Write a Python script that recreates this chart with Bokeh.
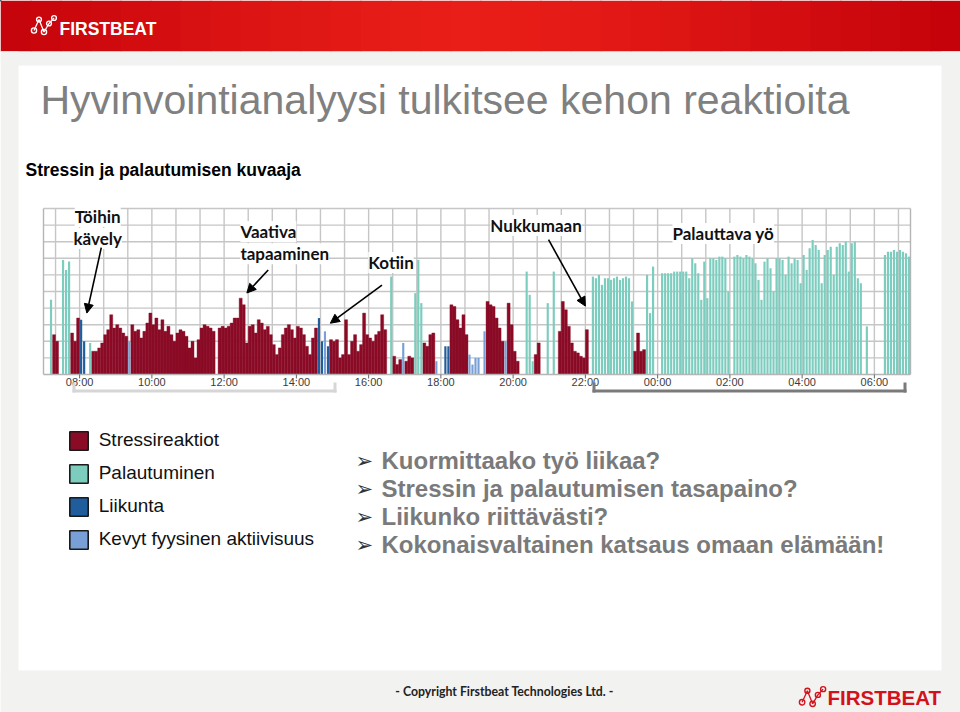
import math
from bokeh.plotting import figure
from bokeh.core.properties import value
from bokeh.models import (ColumnDataSource, Range1d, Label, Arrow, NormalHead, Legend, LegendItem)
from bokeh.embed import file_html
from bokeh.resources import INLINE

# ---------------------------------------------------------------- data
START_HOUR = 7            # chart runs 07:00 -> 07:00 next day
BIN_MINUTES = 5
HOUR_LABELS = ["07", "08", "09", "10", "11", "12", "13", "14", "15", "16", "17", "18",
               "19", "20", "21", "22", "23", "00", "01", "02", "03", "04", "05", "06"]
# one char per 5-minute bin: S stress, R recovery, L exercise, K light activity, . none
CATEGORIES = [
    "..RSS.RRRSSS", "LL.RSSSSSSSS", "SSSSKSSSSSSS", "SSSSSSSSSSSS",
    "SSSSSSSSS.SS", "SSSSSSSSSSSS", "SSSSSSSSSSSS", "SSSSSSSLLKLS",
    "SSSSSSSSSSSS", "SSSSSS.RSSSK", "SSSRRRSSSSK.", ".LLSSSSSSKKK",
    "K.KSSSSSSKSS", "SS..RRRSS..R", ".R.SSSSSSSSS", "S.RRRRRRRRRR",
    "RRRRSSSSRRR.", ".RRRRRRRRRRR", "RRRRRRRRRRRR", ".RRRRRRRRRRR",
    "RRRRRRRRRRRR", "RRRRRRRRRRRR", "RRRRRRRR.R..", "...RRRRRRRRR",
]
VALUES = [
    [0, 0, 45, 24, 20, 0, 69, 63, 68, 25, 20, 34],
    [33, 20, 0, 19, 14, 14, 16, 19, 24, 27, 36, 28],
    [30, 28, 25, 23, 20, 30, 26, 27, 22, 26, 31, 37],
    [30, 34, 27, 33, 26, 29, 24, 20, 25, 27, 26, 23],
    [16, 20, 10, 21, 28, 30, 29, 28, 26, 0, 28, 29],
    [28, 29, 31, 34, 34, 46, 42, 19, 29, 30, 25, 33],
    [31, 27, 29, 24, 18, 12, 16, 24, 28, 30, 27, 22],
    [29, 28, 24, 17, 12, 22, 28, 34, 20, 26, 17, 21],
    [20, 21, 10, 12, 33, 12, 20, 24, 14, 18, 37, 24],
    [22, 20, 24, 26, 36, 27, 0, 59, 11, 6, 9, 19],
    [8, 11, 10, 49, 69, 43, 19, 17, 24, 25, 8, 0],
    [0, 17, 17, 42, 41, 33, 28, 36, 24, 12, 6, 10],
    [10, 0, 26, 44, 42, 41, 34, 28, 20, 20, 43, 30],
    [14, 8, 0, 0, 62, 48, 8, 12, 19, 0, 0, 43],
    [0, 62, 0, 26, 44, 39, 29, 19, 14, 13, 11, 10],
    [27, 0, 59, 58, 60, 54, 58, 58, 57, 58, 59, 57],
    [58, 59, 58, 44, 14, 25, 14, 15, 60, 37, 65, 0],
    [0, 61, 61, 61, 61, 62, 62, 62, 62, 62, 58, 70],
    [67, 61, 45, 68, 46, 70, 70, 69, 71, 71, 70, 50],
    [0, 71, 72, 71, 70, 72, 71, 70, 67, 57, 45, 68],
    [70, 64, 50, 70, 70, 69, 60, 71, 67, 70, 69, 55],
    [72, 63, 76, 81, 78, 75, 55, 72, 75, 77, 60, 77],
    [79, 78, 80, 62, 79, 80, 58, 55, 0, 29, 0, 0],
    [0, 0, 0, 72, 74, 74, 75, 74, 75, 74, 73, 71],
]
SERIES_CODES = ["S", "R", "L", "K"]
SERIES_NAMES = ["Stressireaktiot", "Palautuminen", "Liikunta", "Kevyt fyysinen aktiivisuus"]
SERIES_COLORS = ["#8a0b26", "#7dcdbf", "#1f5d9c", "#79a0d6"]
TICK_LABELS = ["08:00", "10:00", "12:00", "14:00", "16:00", "18:00",
               "20:00", "22:00", "00:00", "02:00", "04:00", "06:00"]
# event annotations: text lines, anchor (hours after 07:00, value), align, arrow from, arrow to
EVENTS = [
    (["Töihin", "kävely"], (1.50, 95.2), "center", (1.60, 76.4), (1.20, 37.0)),
    (["Vaativa", "tapaaminen"], (5.45, 86.1), "left", (6.22, 63.0), (5.63, 49.1)),
    (["Kotiin"], (8.99, 67.5), "left", (9.37, 53.9), (7.94, 30.9)),
    (["Nukkumaan"], (12.37, 89.8), "left", (13.98, 81.2), (15.00, 41.2)),
    (["Palauttava yö"], (17.41, 84.9), "left", None, None),
]
TITLE = "Hyvinvointianalyysi tulkitsee kehon reaktioita"
SUBTITLE = "Stressin ja palautumisen kuvaaja"
QUESTIONS = ["Kuormittaako työ liikaa?", "Stressin ja palautumisen tasapaino?",
             "Liikunko riittävästi?", "Kokonaisvaltainen katsaus omaan elämään!"]
COPYRIGHT = "- Copyright Firstbeat Technologies Ltd. -"
BRAND = "FIRSTBEAT"

# ---------------------------------------------------------------- layout
W, H = 960, 712
FL, FR, FT, FB = 43, 910, 208, 374        # chart plot area, page pixels
V_MAX = 100
px_per_h = (FR - FL) / 24
px_per_v = (FB - FT) / V_MAX

# page is drawn in pixel space (y down); chart uses its own time / value scales
p = figure(width=W, height=H, x_range=Range1d(0, W), y_range=Range1d(H, 0),
           x_axis_type=None, y_axis_type=None, min_border=0,
           output_backend="svg", toolbar_location=None,
           background_fill_color="white", border_fill_color="white",
           outline_line_color=None)
p.grid.visible = False
p.extra_x_ranges = {"t": Range1d(-FL / px_per_h, 24 + (W - FR) / px_per_h)}
p.extra_y_ranges = {"v": Range1d(-(H - FB) / px_per_v, V_MAX + FT / px_per_v)}

# ---------------------------------------------------------------- page background
def lerp(a, b, t):
    return int(round(a + (b - a) * t))

strip_l, strip_r, strip_c = [], [], []
for i in range(32):
    x0 = i * 30
    t = min(1.0, abs(x0 + 15 - 470) / 480) ** 1.3
    strip_l.append(x0)
    strip_r.append(x0 + 31)
    strip_c.append("#%02x%02x%02x" % (lerp(233, 196, t), lerp(30, 2, t), lerp(24, 10, t)))
p.quad(left=strip_l, right=strip_r, top=[0] * 32, bottom=[51] * 32,
       fill_color=strip_c, line_color=None)

GREY = "#f2f2f0"
p.quad(left=[0, 0, 941, 0], right=[960, 18, 960, 960], top=[51, 51, 51, 670],
       bottom=[65, 712, 712, 712], fill_color=GREY, line_color=None)

# ---------------------------------------------------------------- chart grid
grid_t = [(20 + 40 * k) / 60 for k in range(36)]
p.segment(x0=grid_t, x1=grid_t, y0=[0] * len(grid_t), y1=[V_MAX] * len(grid_t),
          x_range_name="t", y_range_name="v", line_color="#c6c6c6", line_width=1.4)
grid_v = list(range(10, V_MAX + 1, 10))
p.segment(x0=[0] * len(grid_v), x1=[24] * len(grid_v), y0=grid_v, y1=grid_v,
          x_range_name="t", y_range_name="v", line_color="#c6c6c6", line_width=1.4)
p.segment(x0=[0, 24], x1=[0, 24], y0=[0, 0], y1=[V_MAX, V_MAX],
          x_range_name="t", y_range_name="v", line_color="#b5b5b5", line_width=1.4)

# ---------------------------------------------------------------- bars
recs = {c: {"x": [], "top": []} for c in SERIES_CODES}
for h, (cats, vals) in enumerate(zip(CATEGORIES, VALUES)):
    for k, (c, v) in enumerate(zip(cats, vals)):
        if c == ".":
            continue
        recs[c]["x"].append(h + (k * BIN_MINUTES + BIN_MINUTES / 2) / 60)
        recs[c]["top"].append(v)

bin_h = BIN_MINUTES / 60
for code, color in zip(SERIES_CODES, SERIES_COLORS):
    src = ColumnDataSource(recs[code])
    if code == "S":
        p.vbar(x="x", top="top", bottom=0, width=bin_h, source=src,
               x_range_name="t", y_range_name="v",
               fill_color=color, line_color=color, line_width=0.4)
    else:
        p.vbar(x="x", top="top", bottom=0, width=bin_h * 0.72, source=src,
               x_range_name="t", y_range_name="v", fill_color=color, line_color=None)

# baseline + time axis ticks and labels
p.segment(x0=[0], x1=[24], y0=[0], y1=[0], x_range_name="t", y_range_name="v",
          line_color="#b5b5b5", line_width=1.4)
tick_pos = [(int(t[:2]) - START_HOUR) % 24 for t in TICK_LABELS]
p.segment(x0=tick_pos, x1=tick_pos, y0=[FB] * 12, y1=[FB + 4] * 12,
          x_range_name="t", line_color="#666666", line_width=1)
p.text(x=tick_pos, y=[FB + 7.5] * 12, text=TICK_LABELS, x_range_name="t",
       text_font=value("Liberation Sans"), text_font_size="11px", text_color="#3c3c3c",
       text_align="center", text_baseline="middle")

# period brackets under the time axis
def bracket(x0, x1, color):
    p.quad(left=[x0, x0, x1 - 3], right=[x1, x0 + 3, x1], top=[389, 382, 382],
           bottom=[392, 392, 392], fill_color=color, line_color=None)
bracket(72, 336, "#d6d6d6")
bracket(592, 906, "#7a7a7a")

# ---------------------------------------------------------------- event labels
for lines, (tx, ty), align, a_from, a_to in EVENTS:
    for i, line in enumerate(lines):
        p.add_layout(Label(x=tx, y=ty - 13.3 * i, x_range_name="t", y_range_name="v",
                           text=line, text_font="Lato", text_font_style="bold",
                           text_font_size="17px", text_color="#111111", text_align=align,
                           text_baseline="middle",
                           background_fill_color="white", background_fill_alpha=1.0))
    if a_from is not None:
        p.add_layout(Arrow(end=NormalHead(size=9, fill_color="black", line_color="black"),
                           x_start=a_from[0], y_start=a_from[1],
                           x_end=a_to[0], y_end=a_to[1],
                           x_range_name="t", y_range_name="v",
                           line_color="black", line_width=1.6))

# ---------------------------------------------------------------- legend
items = []
for name, color in zip(SERIES_NAMES, SERIES_COLORS):
    # swatch renderer: one off-page bar, used only for the legend glyph
    r = p.vbar(x=[-500], top=[-500], bottom=[-490], width=5,
               fill_color=color, line_color="#1a1a1a", line_width=1.6)
    items.append(LegendItem(label=name, renderers=[r]))
legend = Legend(items=items, location=(66.7, H - 550.5), orientation="vertical",
                glyph_width=23, glyph_height=23, label_height=23, label_standoff=9,
                spacing=10, padding=0, margin=0, border_line_color=None,
                background_fill_alpha=0, label_text_font="Liberation Sans",
                label_text_font_size="19px", label_text_color="#111111")
p.add_layout(legend)

# ---------------------------------------------------------------- texts and logos
def ptext(x, y, text, size, color, font="Liberation Sans", style="normal",
          align="left", baseline="middle"):
    p.text(x=[x], y=[y], text=[text], text_font=value(font), text_font_size=f"{size}px",
           text_font_style=style, text_color=color, text_align=align,
           text_baseline=baseline)

def logo(ox, oy, s, color):
    nodes = [(2.5, 15.0, 2.6), (7.5, 4.0, 2.4), (12.5, 16.5, 2.6), (17.5, 8.0, 2.4), (22.5, 2.5, 2.4)]
    p.line(x=[ox + n[0] * s for n in nodes], y=[oy + n[1] * s for n in nodes],
           line_color=color, line_width=1.3)
    p.scatter(x=[ox + n[0] * s for n in nodes], y=[oy + n[1] * s for n in nodes],
              size=[2 * n[2] * s for n in nodes], marker="circle",
              fill_color=None, line_color=color, line_width=1.4)

logo(31, 15, 1.0, "white")
ptext(59, 28, BRAND, 17.5, "white", style="bold")
ptext(40, 99, TITLE, 41, "#808080")
ptext(25, 169.5, SUBTITLE, 17.5, "#000000", style="bold")
for i, q in enumerate(QUESTIONS):
    y = 460 + 28 * i
    ptext(355, y, "\u27a2", 21, "#333333", font="DejaVu Sans")
    ptext(381, y, q, 24, "#7a7a7a", style="bold")
ptext(504, 691, COPYRIGHT, 12.3, "#222222", font="Lato", style="bold", align="center")
logo(799, 686, 1.05, "#d4111b")
ptext(827, 697, BRAND, 20.5, "#d4111b", style="bold")

open("out.html", "w").write(file_html(p, INLINE))
